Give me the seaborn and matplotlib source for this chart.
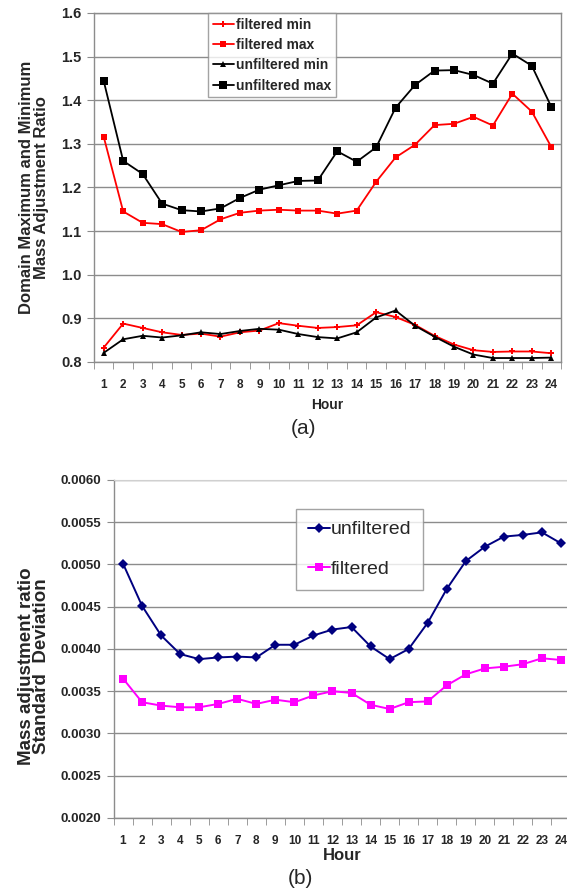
import numpy as np
import pandas as pd
import matplotlib
matplotlib.use("Agg")
import matplotlib.pyplot as plt
import seaborn as sns
from matplotlib.ticker import MultipleLocator, FixedLocator

# Data
hours = list(range(1, 25))

filtered_min = [0.833, 0.888, 0.878, 0.868, 0.862, 0.865, 0.858, 0.868, 0.872, 0.889, 0.883, 0.878,
                0.880, 0.884, 0.914, 0.903, 0.885, 0.860, 0.840, 0.827, 0.823, 0.824, 0.824, 0.820]
filtered_max = [1.316, 1.145, 1.119, 1.116, 1.098, 1.102, 1.127, 1.142, 1.147, 1.149, 1.147, 1.147,
                1.140, 1.147, 1.213, 1.269, 1.298, 1.343, 1.346, 1.362, 1.342, 1.415, 1.374, 1.293]
unfiltered_min = [0.821, 0.852, 0.860, 0.856, 0.861, 0.868, 0.864, 0.871, 0.876, 0.874, 0.864, 0.857,
                  0.854, 0.868, 0.902, 0.918, 0.883, 0.858, 0.835, 0.817, 0.809, 0.809, 0.809, 0.810]
unfiltered_max = [1.444, 1.261, 1.231, 1.163, 1.148, 1.145, 1.152, 1.176, 1.195, 1.205, 1.215, 1.216,
                  1.283, 1.259, 1.292, 1.383, 1.435, 1.468, 1.469, 1.458, 1.438, 1.507, 1.479, 1.385]

sd_unfiltered = [0.00501, 0.00451, 0.00416, 0.00394, 0.00388, 0.00390, 0.00391, 0.00390, 0.00405, 0.00405,
                 0.00416, 0.00423, 0.00426, 0.00403, 0.00388, 0.00400, 0.00431, 0.00471, 0.00504, 0.00521,
                 0.00533, 0.00535, 0.00538, 0.00525]
sd_filtered = [0.00365, 0.00337, 0.00333, 0.00331, 0.00331, 0.00335, 0.00341, 0.00335, 0.00340, 0.00337,
               0.00345, 0.00350, 0.00348, 0.00334, 0.00329, 0.00337, 0.00338, 0.00357, 0.00370, 0.00377,
               0.00379, 0.00382, 0.00389, 0.00387]

sns.set_style("white")
plt.rcParams['font.family'] = ['Liberation Sans', 'DejaVu Sans']

fig = plt.figure(figsize=(5.67, 8.9), dpi=100)
ax1 = fig.add_axes([0.1658, 0.5933, 0.8236, 0.3921])
ax2 = fig.add_axes([0.2002, 0.0809, 0.806, 0.3798])

grid_c = "#8c8c8c"

# ---- panel (a)
sns.lineplot(x=hours, y=filtered_min, ax=ax1, color="red", marker="P", markersize=4,
             markeredgewidth=0, linewidth=1.3, label="filtered min")
sns.lineplot(x=hours, y=filtered_max, ax=ax1, color="red", marker="s", markersize=4,
             markeredgewidth=0, linewidth=1.3, label="filtered max")
sns.lineplot(x=hours, y=unfiltered_min, ax=ax1, color="black", marker="^", markersize=4.5,
             markeredgewidth=0, linewidth=1.3, label="unfiltered min")
sns.lineplot(x=hours, y=unfiltered_max, ax=ax1, color="black", marker="s", markersize=6,
             markeredgewidth=0, linewidth=1.3, label="unfiltered max")

ax1.set_xlim(0.5, 24.5)
ax1.set_ylim(0.8, 1.6)
ax1.yaxis.set_major_locator(MultipleLocator(0.1))
ax1.yaxis.set_major_formatter(matplotlib.ticker.FormatStrFormatter("%.1f"))
ax1.set_xticks(hours)
ax1.xaxis.set_minor_locator(FixedLocator(np.arange(0.5, 25, 1)))
ax1.tick_params(axis="x", which="major", length=0, pad=12, labelsize=8.5)
ax1.tick_params(axis="x", which="minor", length=5, color=grid_c, direction="out", bottom=True)
ax1.tick_params(axis="y", which="major", length=5, color=grid_c, direction="out", left=True,
                labelsize=10.5, pad=4)
for lab in ax1.get_xticklabels() + ax1.get_yticklabels():
    lab.set_fontweight("bold")
ax1.grid(axis="y", color=grid_c, linewidth=1)
ax1.set_axisbelow(True)
for s in ax1.spines.values():
    s.set_color(grid_c)
    s.set_linewidth(1)
ax1.set_xlabel("Hour", fontsize=10, fontweight="bold", labelpad=5)
ax1.set_ylabel("Domain Maximum and Minimum\nMass Adjustment Ratio", fontsize=12,
               fontweight="bold", labelpad=9, linespacing=0.95)
leg1 = ax1.legend(loc="upper left", bbox_to_anchor=(0.244, 1.0), borderaxespad=0,
                  fancybox=False, frameon=True, edgecolor=grid_c, handlelength=1.5,
                  handletextpad=0.15, labelspacing=0.45, borderpad=0.35,
                  prop={"weight": "bold", "size": 10})
leg1.get_frame().set_linewidth(1)
fig.text(0.535, 0.519, "(a)", ha="center", va="center", fontsize=15)

# ---- panel (b)
sns.lineplot(x=hours, y=sd_unfiltered, ax=ax2, color="#000080", marker="D", markersize=5,
             markeredgewidth=0, linewidth=1.4, label="unfiltered")
sns.lineplot(x=hours, y=sd_filtered, ax=ax2, color="#ff00ff", marker="s", markersize=5.5,
             markeredgewidth=0, linewidth=1.4, label="filtered")

ax2.set_xlim(0.5, 24.5)
ax2.set_ylim(0.002, 0.006)
ax2.yaxis.set_major_locator(MultipleLocator(0.0005))
ax2.yaxis.set_major_formatter(matplotlib.ticker.FormatStrFormatter("%.4f"))
ax2.set_xticks(hours)
ax2.xaxis.set_minor_locator(FixedLocator(np.arange(0.5, 25, 1)))
ax2.tick_params(axis="x", which="major", length=0, pad=12, labelsize=8.5)
ax2.tick_params(axis="x", which="minor", length=5, color=grid_c, direction="out", bottom=True)
ax2.tick_params(axis="y", which="major", length=5, color=grid_c, direction="out", left=True,
                labelsize=9.5, pad=4)
for lab in ax2.get_xticklabels() + ax2.get_yticklabels():
    lab.set_fontweight("bold")
ax2.grid(axis="y", color=grid_c, linewidth=1)
ax2.set_axisbelow(True)
ax2.spines["top"].set_color("#d0d0d0")
ax2.spines["right"].set_visible(False)
for s in ["left", "bottom"]:
    ax2.spines[s].set_color(grid_c)
    ax2.spines[s].set_linewidth(1)
ax2.set_xlabel("Hour", fontsize=12, fontweight="bold", labelpad=1)
ax2.set_ylabel("Mass adjustment ratio\nStandard  Deviation", fontsize=13.5,
               fontweight="bold", linespacing=0.88)
ax2.yaxis.set_label_coords(-0.138, 0.45)
leg2 = ax2.legend(loc="upper left", bbox_to_anchor=(0.399, 0.914), borderaxespad=0,
                  fancybox=False, frameon=True, edgecolor=grid_c, handlelength=1.15,
                  handletextpad=0.05, labelspacing=1.15, borderpad=0.6,
                  prop={"size": 14})
leg2.get_frame().set_linewidth(1)
fig.text(0.53, 0.0124, "(b)", ha="center", va="center", fontsize=15)

fig.savefig("out.png", dpi=100)
